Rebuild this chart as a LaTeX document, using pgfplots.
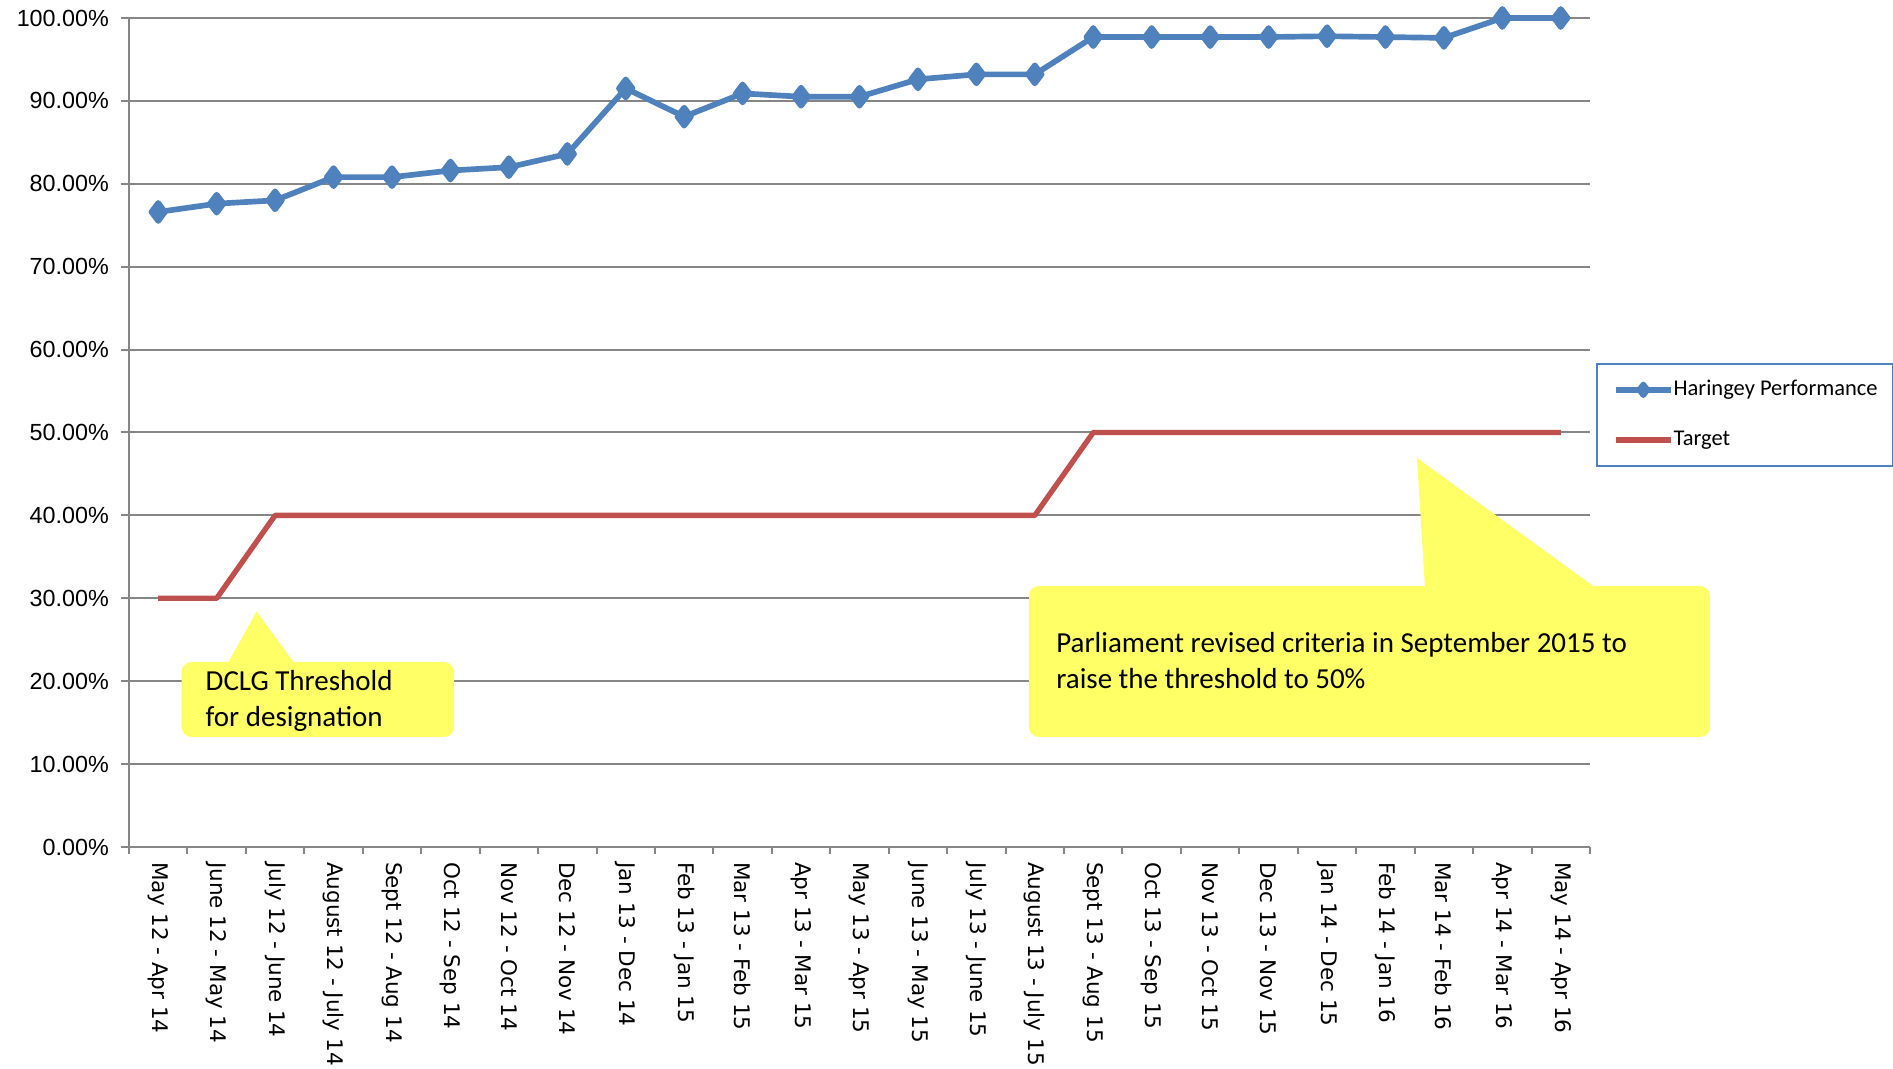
\documentclass[border=0pt]{standalone}
\usepackage{pgfplots}
\pgfplotsset{compat=1.18}
\usepackage{fontspec}
\setmainfont{Carlito}
\newfontfamily\djv{DejaVu Sans}
\newfontfamily\lib{Liberation Sans}
\definecolor{hblue}{HTML}{4F81BD}
\definecolor{hred}{HTML}{C0504D}
\definecolor{gridgray}{HTML}{868686}
\definecolor{callout}{HTML}{FFFF66}
\begin{document}
\begin{tikzpicture}
\useasboundingbox (0,0) rectangle (567.9pt,320.7pt);
\begin{axis}[
  at={(38.7pt,66.6pt)}, anchor=south west,
  scale only axis, width=438.3pt, height=248.7pt,
  xmin=-0.5, xmax=24.5, ymin=0, ymax=100,
  axis lines*=left,
  axis line style={draw=gridgray, line width=0.6pt},
  ymajorgrids, grid style={draw=gridgray, line width=0.6pt},
  ytick={0,10,...,100},
  yticklabels={0.00\%,10.00\%,20.00\%,30.00\%,40.00\%,50.00\%,60.00\%,70.00\%,80.00\%,90.00\%,100.00\%},
  yticklabel style={font=\lib\fontsize{7}{8}\selectfont},
  xtick={0,...,24},
  xticklabels={May 12 - Apr 14, June 12 - May 14, July 12 - June 14, August 12 - July 14, Sept 12 - Aug 14, Oct 12 - Sep 14, Nov 12 - Oct 14, Dec 12 - Nov 14, Jan 13 - Dec 14, Feb 13 - Jan 15, Mar 13 - Feb 15, Apr 13 - Mar 15, May 13 - Apr 15, June 13 - May 15, July 13 - June 15, August 13 - July 15, Sept 13 - Aug 15, Oct 13 - Sep 15, Nov 13 - Oct 15, Dec 13 - Nov 15, Jan 14 - Dec 15, Feb 14 - Jan 16, Mar 14 - Feb 16, Apr 14 - Mar 16, May 14 - Apr 16},
  xticklabel style={yshift=1.5pt, rotate=-90, anchor=west, font=\djv\fontsize{6.45}{7}\selectfont},
  minor xtick={-0.5,0.5,...,24.5},
  tick align=outside,
  major tick length=2.5pt, minor tick length=2pt,
  tick style={color=gridgray, line width=0.6pt},
  major x tick style={draw=none},
  clip=false,
  legend cell align=left,
  legend image code/.code={\draw[mark repeat=2,mark phase=2,#1] plot coordinates {(0cm,0cm) (0.29cm,0cm) (0.58cm,0cm)};},
  legend style={at={(1.004,0.584)}, anchor=north west, draw=hblue, line width=0.7pt, fill=white,
    font=\fontsize{6.75}{8}\selectfont, inner xsep=4.8pt, inner ysep=4.5pt, row sep=8.5pt,
    nodes={inner sep=0pt, text height=5pt, text depth=1.5pt},
    /tikz/every even column/.append style={column sep=1pt}},
]
\addplot[color=hblue, line width=1.7pt, mark=diamond*, mark size=2.7pt, line join=round,
  legend image post style={mark size=1.6pt}] coordinates {
(0,76.6) (1,77.6) (2,78.0) (3,80.8) (4,80.8) (5,81.6) (6,82.0) (7,83.6) (8,91.5) (9,88.1)
(10,90.9) (11,90.5) (12,90.5) (13,92.6) (14,93.2) (15,93.2) (16,97.7) (17,97.7) (18,97.7)
(19,97.7) (20,97.8) (21,97.7) (22,97.6) (23,100) (24,100)};
\addlegendentry{Haringey Performance}
\addplot[color=hred, line width=1.6pt, line join=round] coordinates {
(0,30) (1,30) (2,40) (3,40) (4,40) (5,40) (6,40) (7,40) (8,40) (9,40) (10,40) (11,40)
(12,40) (13,40) (14,40) (15,40) (16,50) (17,50) (18,50) (19,50) (20,50) (21,50) (22,50)
(23,50) (24,50)};
\addlegendentry{Target}
\end{axis}
% callout 1
\fill[callout, rounded corners=3pt] (54.5pt,99.6pt) rectangle (136.2pt,122.1pt);
\fill[callout] (68.2pt,121.5pt) -- (77pt,137.2pt) -- (88.5pt,121.5pt) -- cycle;
\node[anchor=base west, inner sep=0pt, font=\fontsize{8.7}{10.8}\selectfont] at (61.5pt,113.4pt) {DCLG Threshold};
\node[anchor=base west, inner sep=0pt, font=\fontsize{8.7}{10.8}\selectfont] at (61.5pt,102.6pt) {for designation};
% callout 2
\fill[callout, rounded corners=3pt] (308.7pt,99.6pt) rectangle (513pt,144.9pt);
\fill[callout] (427.5pt,144.3pt) -- (425.1pt,183.3pt) -- (478.8pt,144.3pt) -- cycle;
\node[anchor=base west, inner sep=0pt, font=\fontsize{8.7}{10.8}\selectfont] at (316.7pt,124.8pt) {Parliament revised criteria in September 2015 to};
\node[anchor=base west, inner sep=0pt, font=\fontsize{8.7}{10.8}\selectfont] at (316.7pt,114pt) {raise the threshold to 50\%};
\end{tikzpicture}
\end{document}
